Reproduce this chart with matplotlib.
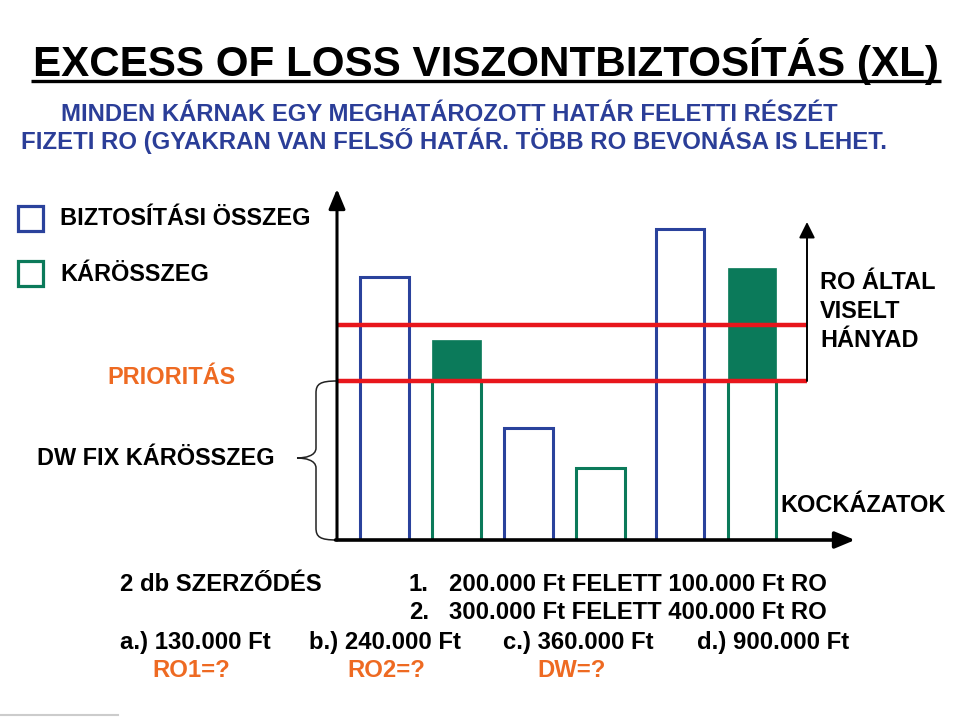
import matplotlib
matplotlib.use("Agg")
import matplotlib.pyplot as plt
from matplotlib.patches import Rectangle, PathPatch
from matplotlib.path import Path
import numpy as np

# ---------------- data ----------------
bar_kinds = ["sum", "claim", "sum", "claim", "sum", "claim"]
bar_values = [263, 200, 112, 72, 311, 272]
priority = 159
upper_limit = 215

title = "EXCESS OF LOSS VISZONTBIZTOSÍTÁS (XL)"
subtitle1 = "MINDEN KÁRNAK EGY MEGHATÁROZOTT HATÁR FELETTI RÉSZÉT"
subtitle2 = "FIZETI RO (GYAKRAN VAN FELSŐ HATÁR. TÖBB RO BEVONÁSA IS LEHET."
legend_labels = ["BIZTOSÍTÁSI ÖSSZEG", "KÁRÖSSZEG"]
contract_items = [("1.", "200.000 Ft FELETT 100.000 Ft RO"),
                  ("2.", "300.000 Ft FELETT 400.000 Ft RO")]
cases = ["a.) 130.000 Ft", "b.) 240.000 Ft", "c.) 360.000 Ft", "d.) 900.000 Ft"]
questions = ["RO1=?", "RO2=?", "DW=?"]

# ---------------- style ----------------
BLUE = "#2A429C"
GREEN = "#0B7A5A"
RED = "#E8161C"
ORANGE = "#EE6A22"
TBLUE = "#2B3E98"
FONT_KW = {"family": ["Liberation Sans", "DejaVu Sans"], "fontweight": "bold"}

W, H = 959, 717
fig = plt.figure(figsize=(W / 100, H / 100), dpi=100)
fig.patch.set_facecolor("white")
ov = fig.add_axes([0, 0, 1, 1])
ov.set_xlim(0, W)
ov.set_ylim(H, 0)
ov.axis("off")
renderer = fig.canvas.get_renderer()


def fit_size(s, w, size=16):
    t = ov.text(0, 0, s, fontsize=size, **FONT_KW)
    bb = t.get_window_extent(renderer)
    t.remove()
    return size * w / bb.width


def put(s, x, y, size, color="black"):
    return ov.text(x, y, s, color=color, fontsize=size,
                   ha="left", va="baseline", **FONT_KW)


# title + underline
put(title, 33, 76, fit_size(title, 907), "black")
ov.plot([31, 941], [81, 81], color="black", lw=2.4, solid_capstyle="butt")

put(subtitle1, 61, 121, fit_size(subtitle1, 780), TBLUE)
put(subtitle2, 21, 149, fit_size(subtitle2, 866), TBLUE)

# legend
leg_colors = [BLUE, GREEN]
leg_y = [204, 259]
for c, y0 in zip(leg_colors, leg_y):
    ov.add_patch(Rectangle((17.5, y0 + 1.5), 25, 25, fill=False, edgecolor=c, lw=2.3))

LS = fit_size(legend_labels[0], 250)
for lab, y0 in zip(legend_labels, [225, 281]):
    put(lab, 60, y0, LS, "black")

put("PRIORITÁS", 107, 384, LS, ORANGE)
put("DW FIX KÁRÖSSZEG", 37, 465, LS, "black")
put("RO ÁLTAL", 820, 289, LS, "black")
put("VISELT", 820, 318, LS, "black")
put("HÁNYAD", 820, 347, LS, "black")
put("KOCKÁZATOK", 780, 512, LS, "black")

# brace
bx, tip = 316, 297
top, bot, mid = 381, 540, 458
verts = [(337, top), (320, top), (bx, top + 3), (bx, top + 12),
         (bx, mid - 10),
         (bx, mid - 2), (305, mid), (tip, mid),
         (305, mid), (bx, mid + 2), (bx, mid + 10),
         (bx, bot - 12),
         (bx, bot - 3), (320, bot), (337, bot)]
codes = [Path.MOVETO, Path.CURVE4, Path.CURVE4, Path.CURVE4,
         Path.LINETO,
         Path.CURVE4, Path.CURVE4, Path.CURVE4,
         Path.CURVE4, Path.CURVE4, Path.CURVE4,
         Path.LINETO,
         Path.CURVE4, Path.CURVE4, Path.CURVE4]
ov.add_patch(PathPatch(Path(verts, codes), fill=False, edgecolor="#222222", lw=1.1))

# bottom text
BS = fit_size(contract_items[0][1], 377)
put("2 db SZERZŐDÉS", 120, 591, BS, "black")
for (num, txt), yb in zip(contract_items, [591, 619]):
    put(num, 409, yb, BS, "black")
    put(txt, 449, yb, BS, "black")
case_x = [120, 309, 503, 697]
for s, x in zip(cases, case_x):
    put(s, x, 649, BS, "black")
q_x = [152, 347, 537]
for s, x in zip(questions, q_x):
    put(s, x, 677, BS, ORANGE)

# faint line bottom-left
ov.plot([0, 118], [715, 715], color="#cccccc", lw=1.5)

# ---------------- chart ----------------
px_left, px_right, px_bottom, px_top = 337, 855, 540, 189
ax = fig.add_axes([px_left / W, 1 - px_bottom / H,
                   (px_right - px_left) / W, (px_bottom - px_top) / H])
ax.patch.set_visible(False)
ax.axis("off")
unit = 72.0
x_lo = (px_left - 384.5) / unit
x_hi = (px_right - 384.5) / unit
ax.set_xlim(x_lo, x_hi)
ax.set_ylim(0, px_bottom - px_top)

positions = np.arange(len(bar_values)) + np.array([0, 0, 0, 0, 0.1, 0.1])
bw = 0.67
for pos, kind, v in zip(positions, bar_kinds, bar_values):
    if kind == "sum":
        ax.bar(pos, v, width=bw, fill=False, edgecolor=BLUE, lw=2.2, zorder=2)
    else:
        if v > priority:
            ax.bar(pos, priority, width=bw, fill=False, edgecolor=GREEN, lw=2.2, zorder=2)
            ax.bar(pos, v - priority, bottom=priority, width=bw, color=GREEN,
                   edgecolor=GREEN, lw=0.5, zorder=2)
        else:
            ax.bar(pos, v, width=bw, fill=False, edgecolor=GREEN, lw=2.2, zorder=2)

right_arrow_x = (807 - 384.5) / unit
ax.hlines([priority, upper_limit], x_lo, right_arrow_x, color=RED, lw=3.2, zorder=3)

head = "-|>,head_length=0.6,head_width=0.25"
ax.annotate("", xy=(x_lo, px_bottom - px_top), xytext=(x_lo, 0),
            arrowprops=dict(arrowstyle=head, lw=2.2, color="black",
                            mutation_scale=20, shrinkA=0, shrinkB=0), zorder=4)
ax.annotate("", xy=(x_hi, 0), xytext=(x_lo - 0.02, 0),
            arrowprops=dict(arrowstyle=head, lw=2.6, color="black",
                            mutation_scale=20, shrinkA=0, shrinkB=0), zorder=4)
ax.annotate("", xy=(right_arrow_x, 540 - 222), xytext=(right_arrow_x, priority),
            arrowprops=dict(arrowstyle="-|>,head_length=0.6,head_width=0.3", lw=1.4,
                            color="black", mutation_scale=16, shrinkA=0, shrinkB=0),
            zorder=4)

fig.savefig("out.png", dpi=100, facecolor="white")
